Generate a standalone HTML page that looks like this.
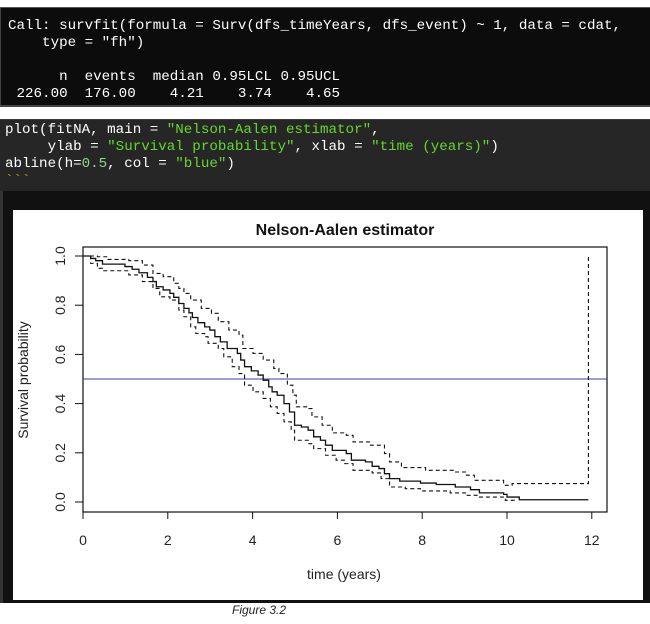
<!DOCTYPE html>
<html><head><meta charset="utf-8">
<style>
body{margin:0;width:650px;height:624px;background:#fff;position:relative;overflow:hidden;font-family:"Liberation Sans",sans-serif}
.mono{font-family:"Liberation Mono",monospace;font-size:14.2px;white-space:pre;position:absolute;left:8px;color:#fff;line-height:17px}
</style></head><body>
<div style="position:absolute;left:0;top:7px;width:650px;height:100px;background:#0c0c0c;border-top:1px solid #555;border-bottom:2px solid #444;border-left:1px solid #444;box-sizing:border-box"></div>
<div class="mono" style="top:18px">Call: survfit(formula = Surv(dfs_timeYears, dfs_event) ~ 1, data = cdat,
    type = "fh")

      n  events  median 0.95LCL 0.95UCL
 226.00  176.00    4.21    3.74    4.65</div>
<div style="position:absolute;left:0;top:119px;width:650px;height:72px;background:#262626;border-top:1px solid #3a3a3a"></div>
<div class="mono" style="top:122px;left:5px">plot(fitNA, main = <span style="color:#64d92a">"Nelson-Aalen estimator"</span>,
     ylab = <span style="color:#64d92a">"Survival probability"</span>, xlab = <span style="color:#64d92a">"time (years)"</span>)
abline(h=<span style="color:#8fd68f">0.5</span>, col = <span style="color:#64d92a">"blue"</span>)
<span style="color:#c8a000">&#96;&#96;&#96;</span></div>
<div style="position:absolute;left:0;top:191px;width:650px;height:412px;background:#111;border-left:3px solid #333;box-sizing:border-box"></div>
<svg style="position:absolute;left:13px;top:210px" width="630" height="390" viewBox="13 210 630 390">
<rect x="13" y="210" width="630" height="390" fill="#fff"/>
<g id="g"></g>
</svg>
<div style="position:absolute;left:232px;top:603px;font-style:italic;font-size:12px;color:#222">Figure 3.2</div>
<script>
const estT=[0,0.18,0.30,0.46,0.99,1.16,1.32,1.52,1.65,1.73,1.89,2.05,2.14,2.26,2.38,2.50,2.58,2.71,2.87,2.99,3.11,3.24,3.40,3.64,3.72,3.81,3.97,4.13,4.25,4.38,4.46,4.58,4.74,4.87,4.99,5.15,5.31,5.44,5.60,5.72,5.88,6.21,6.33,6.66,6.82,6.98,7.11,7.23,7.47,7.96,8.33,8.78,9.14,9.35,9.92,10.0,10.29,11.92];
const estS=[1,.99,.981,.967,.957,.946,.932,.913,.896,.875,.862,.848,.832,.807,.787,.769,.750,.729,.712,.699,.672,.651,.624,.604,.577,.550,.533,.516,.495,.468,.448,.434,.400,.366,.312,.305,.292,.265,.251,.231,.210,.197,.170,.163,.145,.136,.115,.095,.085,.077,.071,.061,.050,.037,.031,.020,.009,.009];
const upT=[0,0.34,0.59,1.08,1.40,1.65,1.89,2.14,2.26,2.38,2.54,2.79,3.03,3.19,3.44,3.68,3.77,4.01,4.25,4.50,4.62,4.82,4.95,5.03,5.31,5.40,5.64,5.88,6.21,6.37,6.78,7.11,7.23,7.51,8.08,8.74,9.02,9.23,9.92,10.12,11.92,11.92];
const upS=[1,.997,.986,.981,.963,.929,.916,.889,.868,.848,.821,.787,.767,.733,.699,.678,.624,.604,.577,.543,.522,.475,.434,.387,.380,.346,.312,.281,.271,.244,.231,.197,.163,.140,.129,.122,.109,.088,.068,.075,.075,1.0];
const loT=[0,0.18,0.34,0.46,1.08,1.40,1.65,1.81,2.05,2.26,2.38,2.54,2.66,2.87,2.95,3.19,3.32,3.52,3.68,3.81,4.01,4.25,4.42,4.58,4.74,4.91,4.99,5.31,5.44,5.72,5.97,6.17,6.37,6.82,7.03,7.23,7.60,7.96,8.66,9.02,9.35,9.96,10.25];
const loS=[1,.970,.950,.940,.923,.896,.868,.834,.821,.780,.753,.712,.685,.672,.645,.624,.590,.550,.522,.475,.448,.421,.387,.360,.326,.292,.251,.237,.217,.190,.170,.156,.129,.118,.095,.061,.054,.045,.037,.027,.020,.007,.007];
const xTicks=[0,2,4,6,8,10,12];
const yTicks=[0,0.2,0.4,0.6,0.8,1.0];
const refLine=[0.5];
const NS='http://www.w3.org/2000/svg';
const X=function(t){return 83+t*42.4;}, Y=function(s){return 502-s*246;};
const g=document.getElementById('g');
function mk(tag,a){const e=document.createElementNS(NS,tag);for(const k in a)e.setAttribute(k,a[k]);g.appendChild(e);return e;}
function steps(T,S){let d='M'+X(T[0])+','+Y(S[0]);for(let i=1;i<T.length;i++){d+='H'+X(T[i])+'V'+Y(S[i]);}return d;}
let e;
e=mk('rect',{x:83,y:247,width:524,height:265,fill:'none',stroke:'#111','stroke-width':1.2});


xTicks.forEach(function(v){
 e=mk('line',{x1:X(v),x2:X(v),y1:512,y2:519,stroke:'#111'});
 
 
 e=mk('text',{x:X(v),y:545,'text-anchor':'middle','font-size':14,fill:'#222'});e.textContent=v;
 
 
});
yTicks.forEach(function(v){
 e=mk('line',{x1:75,x2:83,y1:Y(v),y2:Y(v),stroke:'#111'});
 
 
 e=mk('text',{x:0,y:0,'text-anchor':'middle','font-size':14,fill:'#222',transform:'translate(65,'+Y(v)+') rotate(-90)'});e.textContent=v.toFixed(1);
 
 
});
refLine.forEach(function(v){
 e=mk('line',{x1:83,x2:607,y1:Y(v),y2:Y(v),stroke:'#3c3ca8','stroke-width':1});
 
 
});
e=mk('path',{d:steps(upT,upS),fill:'none',stroke:'#111','stroke-width':1.1,'stroke-dasharray':'4,3'});


e=mk('path',{d:steps(loT,loS),fill:'none',stroke:'#111','stroke-width':1.1,'stroke-dasharray':'4,3'});


e=mk('path',{d:steps(estT,estS),fill:'none',stroke:'#111','stroke-width':1.3});


e=mk('text',{x:345,y:235,'text-anchor':'middle','font-size':16,'font-weight':'bold',fill:'#111'});e.textContent='Nelson-Aalen estimator';


e=mk('text',{x:344,y:579,'text-anchor':'middle','font-size':14,fill:'#222'});e.textContent='time (years)';


e=mk('text',{x:0,y:0,'text-anchor':'middle','font-size':14,fill:'#222',transform:'translate(28,380) rotate(-90)'});e.textContent='Survival probability';


</script>
</body></html>
